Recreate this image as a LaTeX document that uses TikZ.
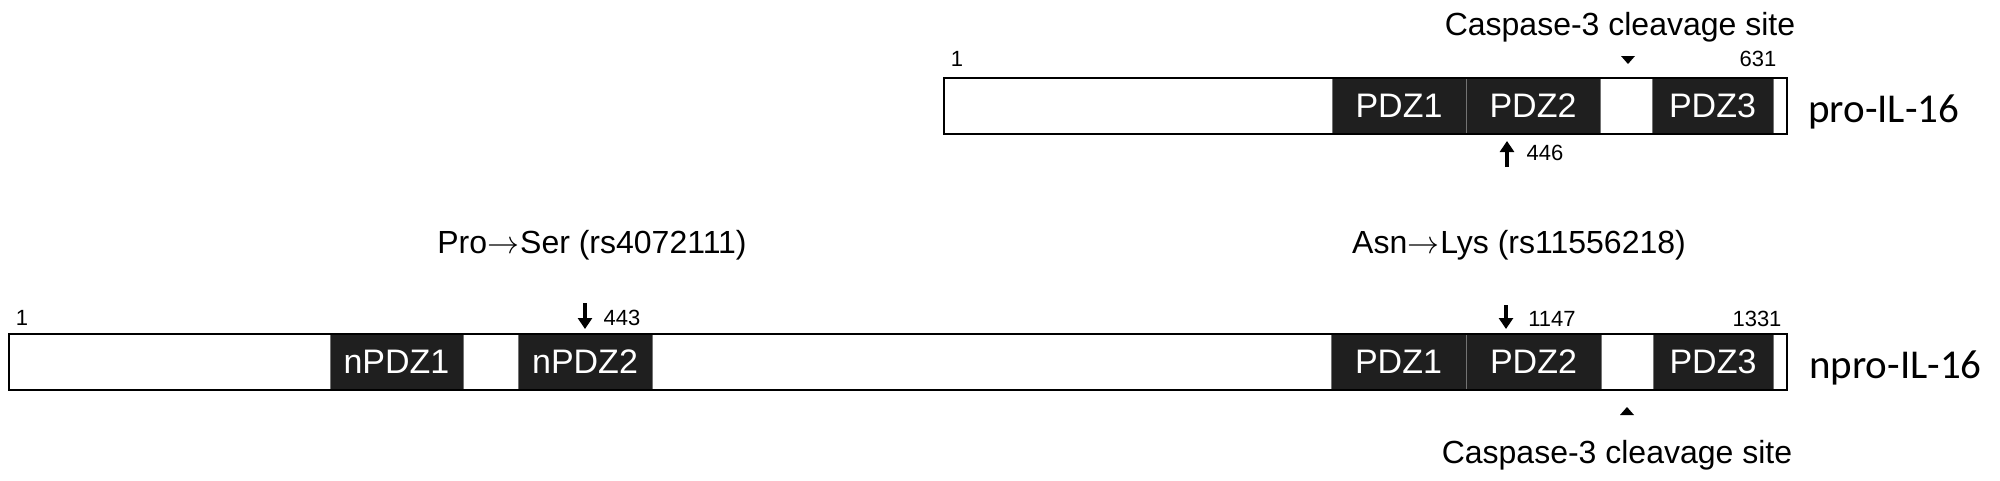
\RequirePackage{fix-cm}
\documentclass[tikz,border=0pt]{standalone}
\usepackage{fontspec}
\setmainfont{Liberation Sans}
\newfontfamily\carlitofont{Carlito}
\usetikzlibrary{arrows.meta}
\newcommand{\subarrow}{\kern0.5pt\(\rightarrow\)\kern0.5pt}
\begin{document}
\begin{tikzpicture}[x=1pt,y=-1pt,
  barbox/.style={fill=white, draw=none, inner sep=0pt, outer sep=0pt, minimum height=56pt, anchor=west},
  barline/.style={draw=black, line width=2.8pt},
  dom/.style={fill=black!88, draw=black!55, line width=0.9pt, text=white, inner sep=0pt, outer sep=0pt,
              minimum height=56pt, anchor=west, font=\fontsize{34}{40}\selectfont},
  big/.style={inner sep=0pt, anchor=base, font=\fontsize{32}{38}\selectfont},
  num/.style={inner sep=0pt, anchor=base, font=\fontsize{22}{26}\selectfont},
  lab/.style={inner sep=0pt, anchor=base west, font=\carlitofont\fontsize{41}{48}\selectfont},
  arr/.style={line width=3.4pt, -{Triangle[length=11pt,width=14pt]}},
  sitemark/.style={fill=black}
]
\fill[white] (0,0) rectangle (2000,480);
\useasboundingbox (0,0) rectangle (2000,480);

% ---------- pro-IL-16 ----------
\node[barbox, minimum width=843pt] (bar1) at (944,106) {};
\node[dom, minimum width=134pt] (p1) at (1332,106) {PDZ1};
\node[dom, minimum width=134pt] (p2) at (1466,106) {PDZ2};
\node[dom, minimum width=121pt] (p3) at (1652,106) {PDZ3};
\draw[barline] (bar1.north west) rectangle (bar1.south east);

\node[big] (cas1) at (1620,35) {Caspase-3 cleavage site};
\fill[sitemark] (1621,56) -- (1635,56) -- (1628,64) -- cycle;
\node[num] (n1a) at (957,66) {1};
\node[num] (n631) at (1758,66) {631};
\coordinate (u1) at (1507,167);
\coordinate (u2) at (1507,141);
\draw[arr] (u1) -- (u2);
\node[num] (n446) at (1545,160) {446};
\node[lab] (l1) at (1808,122) {pro-IL-16};

% ---------- npro-IL-16 ----------
\node[barbox, minimum width=1778pt] (bar2) at (9,362) {};
\node[dom, minimum width=133pt] (q1) at (330,362) {nPDZ1};
\node[dom, minimum width=134pt] (q2) at (518,362) {nPDZ2};
\node[dom, minimum width=135pt] (q3) at (1331,362) {PDZ1};
\node[dom, minimum width=135pt] (q4) at (1466,362) {PDZ2};
\node[dom, minimum width=120pt] (q5) at (1653,362) {PDZ3};
\draw[barline] (bar2.north west) rectangle (bar2.south east);

\node[big] (ps) at (592,253) {Pro\subarrow Ser (rs4072111)};
\node[big] (al) at (1519,253) {Asn\subarrow Lys (rs11556218)};
\coordinate (d1) at (585,303);
\coordinate (d2) at (585,329);
\draw[arr] (d1) -- (d2);
\coordinate (e1) at (1506,305);
\coordinate (e2) at (1506,329);
\draw[arr] (e1) -- (e2);
\node[num] (n1b) at (22,325) {1};
\node[num] (n443) at (622,325) {443};
\node[num] (n1147) at (1552,326) {1147};
\node[num] (n1331) at (1757,326) {1331};
\fill[sitemark] (1620,415) -- (1634,415) -- (1627,407) -- cycle;
\node[big] (cas2) at (1617,463) {Caspase-3 cleavage site};
\node[lab] (l2) at (1809,378) {npro-IL-16};
\end{tikzpicture}
\end{document}
